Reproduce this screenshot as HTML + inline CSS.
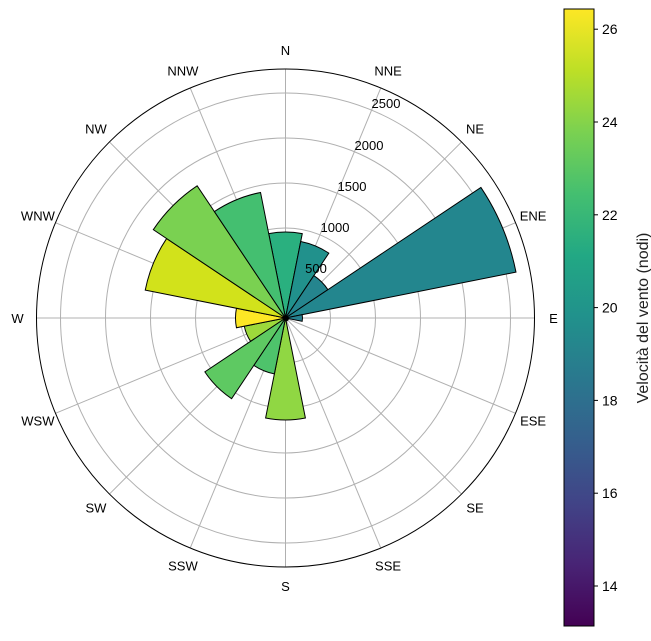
<!DOCTYPE html>
<html><head><meta charset="utf-8"><style>
body{margin:0;background:#fff;}
svg text{font-family:"Liberation Sans","DejaVu Sans",sans-serif;}
</style></head><body>
<svg id="s" width="651" height="636" xmlns="http://www.w3.org/2000/svg">
<defs><linearGradient id="vir" x1="0" y1="1" x2="0" y2="0">
<stop offset="0" stop-color="#440154"/><stop offset="0.1" stop-color="#482475"/><stop offset="0.2" stop-color="#414487"/><stop offset="0.3" stop-color="#355f8d"/><stop offset="0.4" stop-color="#2a788e"/><stop offset="0.5" stop-color="#21918c"/><stop offset="0.6" stop-color="#22a884"/><stop offset="0.7" stop-color="#44bf70"/><stop offset="0.8" stop-color="#7ad151"/><stop offset="0.9" stop-color="#bddf26"/><stop offset="1" stop-color="#fde725"/>
</linearGradient></defs>
<g id="grid"></g><g id="bars"></g>
<circle cx="285.5" cy="318" r="249" fill="none" stroke="#000" stroke-width="1"/>
<g font-size="13" fill="#000" text-anchor="middle" id="lab"></g>
<g font-size="13" text-anchor="middle">
<text x="316" y="273">500</text><text x="335" y="232">1000</text><text x="352" y="191">1500</text><text x="369" y="150">2000</text><text x="386" y="108">2500</text>
</g>
<rect x="564" y="9" width="30" height="617" fill="url(#vir)" stroke="#000" stroke-width="1"/>
<g font-size="14" id="cb"></g>
<text transform="translate(648,318) rotate(-90)" font-size="16" text-anchor="middle" fill="#222">Velocità del vento (nodi)</text>
</svg>
<script>
var cx=285.5,cy=318,R=249,ns="http://www.w3.org/2000/svg";
function el(p,t,a,txt){var e=document.createElementNS(ns,t);for(var k in a)e.setAttribute(k,a[k]);if(txt)e.textContent=txt;document.getElementById(p).appendChild(e);}
[45,90,135,180,225].forEach(function(r){el("grid","circle",{cx:cx,cy:cy,r:r,fill:"none",stroke:"#b0b0b0","stroke-width":1});});
var names=["N","NNE","NE","ENE","E","ESE","SE","SSE","S","SSW","SW","WSW","W","WNW","NW","NNW"];
for(var i=0;i<16;i++){var a=i*22.5*Math.PI/180;
el("grid","line",{x1:cx,y1:cy,x2:cx+R*Math.sin(a),y2:cy-R*Math.cos(a),stroke:"#b0b0b0","stroke-width":1});
el("lab","text",{x:cx+268*Math.sin(a),y:cy-268*Math.cos(a)+5},names[i]);}
var bars=[[86,"#2ab07f"],[78,"#21918c"],[51,"#25858e"],[235,"#23868e"],[17,"#277f8e"],[3,"#2a788e"],[3,"#2a788e"],[3,"#2a788e"],[102,"#90d743"],[57,"#4ec36b"],[97,"#5ec962"],[42,"#9dd93b"],[50,"#fde725"],[143,"#d2e21b"],[159,"#7ad151"],[128,"#44bf70"]];
bars.forEach(function(b,i){var w=22.5*Math.PI/180,c=i*22.5*Math.PI/180,a1=c-w/2,a2=c+w/2,r=b[0];
var d="M"+cx+","+cy+"L"+(cx+r*Math.sin(a1))+","+(cy-r*Math.cos(a1))+"A"+r+","+r+" 0 0 1 "+(cx+r*Math.sin(a2))+","+(cy-r*Math.cos(a2))+"Z";
el("bars","path",{d:d,fill:b[1],stroke:"#000","stroke-width":1});});
for(var v=14;v<=26;v+=2){var y=586-(v-14)*46.4;el("cb","line",{x1:594,y1:y,x2:598,y2:y,stroke:"#000"});el("cb","text",{x:602,y:y+5},""+v);}
</script>
</body></html>
